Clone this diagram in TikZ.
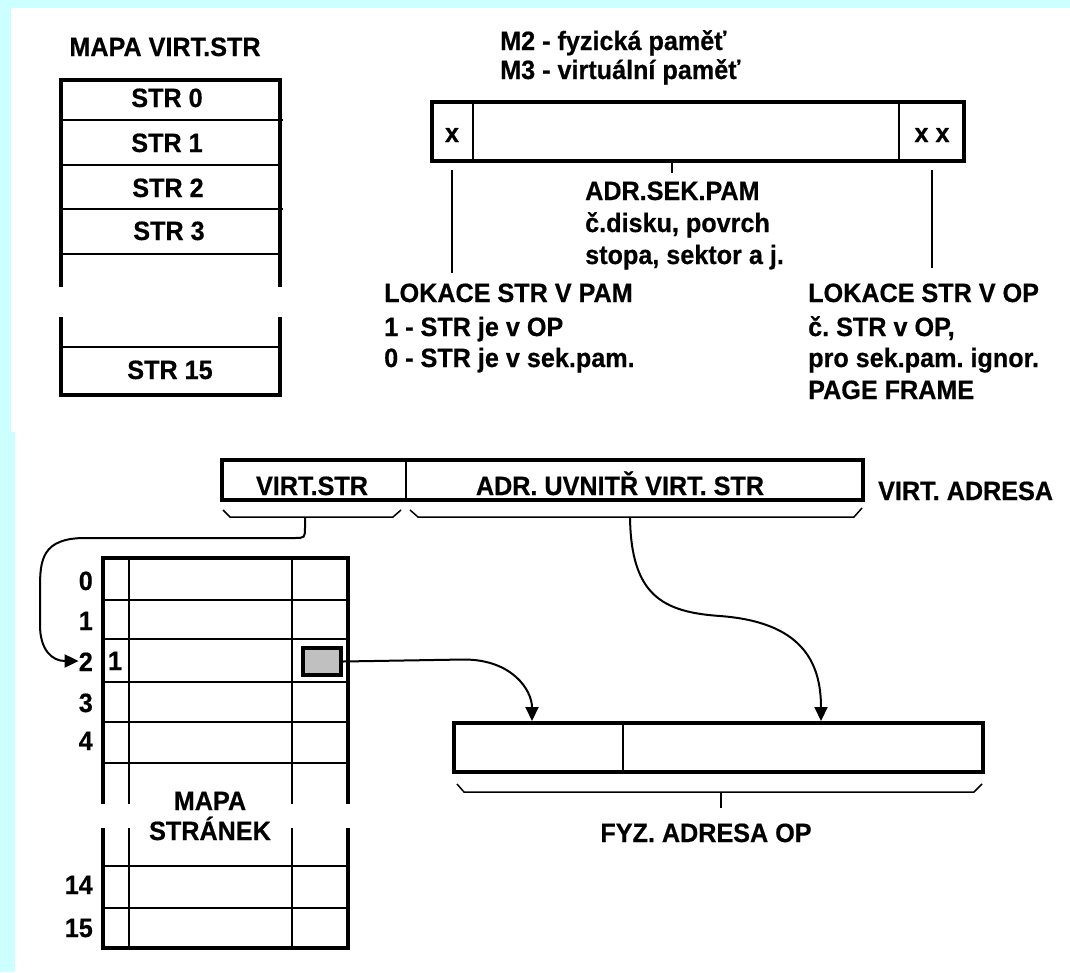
\documentclass[tikz,border=0pt]{standalone}
\usepackage{fontspec}
\setmainfont{Liberation Sans}
\newfontfamily\lblfont{Liberation Sans Bold}[FakeStretch=0.95, FakeBold=0.5]
\usetikzlibrary{arrows.meta}
\definecolor{bgcyan}{RGB}{204,255,255}
\definecolor{cellgray}{RGB}{192,192,192}
\frenchspacing
\begin{document}
\begin{tikzpicture}[x=1pt,y=-1pt,
  thickln/.style={line width=4pt},
  thinln/.style={line width=2pt},
  hairln/.style={line width=1.5pt},
  txt/.style={font=\fontsize{26.5}{30}\lblfont, inner sep=0pt, anchor=base},
  txtl/.style={txt, anchor=base west},
  txtr/.style={txt, anchor=base east},
  conn/.style={line width=2pt},
  arr/.style={line width=2pt, -{Triangle[length=14pt,width=13pt]}},
]
% background
\useasboundingbox (0,0) rectangle (1070,972);
\fill[bgcyan] (0,0) rectangle (1070,972);
\fill[white] (11,8) rectangle (1070,432);
\fill[white] (15,432) rectangle (1070,972);

% ---------------- top-left: MAPA VIRT.STR
\node[txt] (title1) at (165,56) {MAPA VIRT.STR};
\draw[thickln] (61,287) -- (61,80) -- (279.5,80) -- (279.5,287);
\draw[thickln] (61,317) -- (61,395) -- (279.5,395) -- (279.5,317);
\draw[thinln] (61,120) -- (283,120);
\draw[thinln] (61,165) -- (279.5,165);
\draw[thinln] (61,209) -- (283,209);
\draw[thinln] (61,254) -- (279.5,254);
\draw[thinln] (61,347) -- (279.5,347);
\node[txt] (s0) at (167,107) {STR 0};
\node[txt] (s1) at (167,152) {STR 1};
\node[txt] (s2) at (168,197) {STR 2};
\node[txt] (s3) at (169,240) {STR 3};
\node[txt] (s15) at (170,379) {STR 15};

% ---------------- top-right: page table entry
\node[txtl] (m2) at (500,50) {M2 - fyzická paměť};
\node[txtl] (m3) at (500,79) {M3 - virtuální paměť};
\draw[thickln] (432,102) rectangle (964,161);
\draw[thinln] (473,102) -- (473,161);
\draw[thinln] (899,102) -- (899,161);
\node[txt] (bx) at (452,142) {x};
\node[txt] (bxx) at (932,142) {x x};
\coordinate (tl1) at (452,170);
\coordinate (tl2) at (452,273);
\coordinate (tm1) at (672,163);
\coordinate (tm2) at (672,173);
\coordinate (tr1) at (932,170);
\coordinate (tr2) at (932,268);
\draw[hairln] (tl1) -- (tl2);
\draw[hairln] (tm1) -- (tm2);
\draw[hairln] (tr1) -- (tr2);
\node[txtl] (adr1) at (585,200) {ADR.SEK.PAM};
\node[txtl] (adr2) at (585,232) {č.disku, povrch};
\node[txtl] (adr3) at (585,264) {stopa, sektor a j.};
\node[txtl] (lp1) at (384,302) {LOKACE STR V PAM};
\node[txtl] (lp2) at (384,336) {1 - STR je v OP};
\node[txtl] (lp3) at (384,367) {0 - STR je v sek.pam.};
\node[txtl] (lo1) at (808,302) {LOKACE STR V OP};
\node[txtl] (lo2) at (808,336) {č. STR v OP,};
\node[txtl] (lo3) at (808,367) {pro sek.pam. ignor.};
\node[txtl] (lo4) at (808,399) {PAGE FRAME};

% ---------------- bottom: virtual address
\draw[thickln] (222,460) rectangle (863,500);
\draw[thinln] (406,460) -- (406,500);
\node[txt] (vstr) at (312,495) {VIRT.STR};
\node[txt] (vadr) at (620,495) {ADR. UVNITŘ VIRT. STR};
\node[txtl] (vlab) at (878,500) {VIRT. ADRESA};
% braces
\draw[hairln] (223,510) -- (230,517) -- (393,517) -- (401,510);
\draw[hairln] (410,510) -- (418,517) -- (854,517) -- (862,508);
\coordinate (vsb) at (305,517);
\coordinate (adb) at (630,517);

% ---------------- page table
\draw[thickln] (103,804) -- (103,558) -- (348,558) -- (348,804);
\draw[thickln] (103,828) -- (103,948) -- (348,948) -- (348,828);
\draw[thinln] (129,558) -- (129,804) (129,828) -- (129,948);
\draw[thinln] (292,558) -- (292,804) (292,828) -- (292,948);
\foreach \yy in {600,639,682,722,763,866,908}
  \draw[thinln] (103,\yy) -- (348,\yy);
\node[txtr] (r0) at (93,590) {0};
\node[txtr] (r1) at (93,630) {1};
\node[txtr] (r2) at (93,671) {2};
\node[txtr] (r3) at (93,712) {3};
\node[txtr] (r4) at (93,750) {4};
\node[txtr] (r14) at (93,894) {14};
\node[txtr] (r15) at (93,937) {15};
\node[txt] (bit) at (115,670) {1};
\node[txt] (mp1) at (210,810) {MAPA};
\node[txt] (mp2) at (210,840) {STRÁNEK};
\node[draw, line width=4pt, fill=cellgray, minimum width=38pt, minimum height=27pt,
      inner sep=0pt, anchor=north west] (frame) at (301,646) {};

% ---------------- physical address
\draw[thickln] (454,723) rectangle (983,772);
\draw[thinln] (623,723) -- (623,772);
\coordinate (pa) at (532,721);
\coordinate (pb) at (821,721);
\draw[hairln] (457,784) -- (464,792) -- (974,792) -- (982,784);
\coordinate (fb1) at (721,792);
\coordinate (fb2) at (721,808);
\draw[hairln] (fb1) -- (fb2);
\node[txt] (fyz) at (706,842) {FYZ. ADRESA OP};

% ---------------- connectors
\draw[arr] (vsb) -- (305,527) .. controls (305,538) .. (294,538) -- (85,538)
   .. controls (42,538) and (40,560) .. (40,588) -- (40,625)
   .. controls (40,650) and (52,661) .. (r2.west |- 0,661);
\draw[arr] (frame.east) -- (464,659.5) .. controls (512,659.5) and (532,690) .. (pa);
\draw[arr] (adb) .. controls (631,595) and (662,612) .. (720,616)
   .. controls (800,622) and (821,660) .. (pb);
\end{tikzpicture}
\end{document}
